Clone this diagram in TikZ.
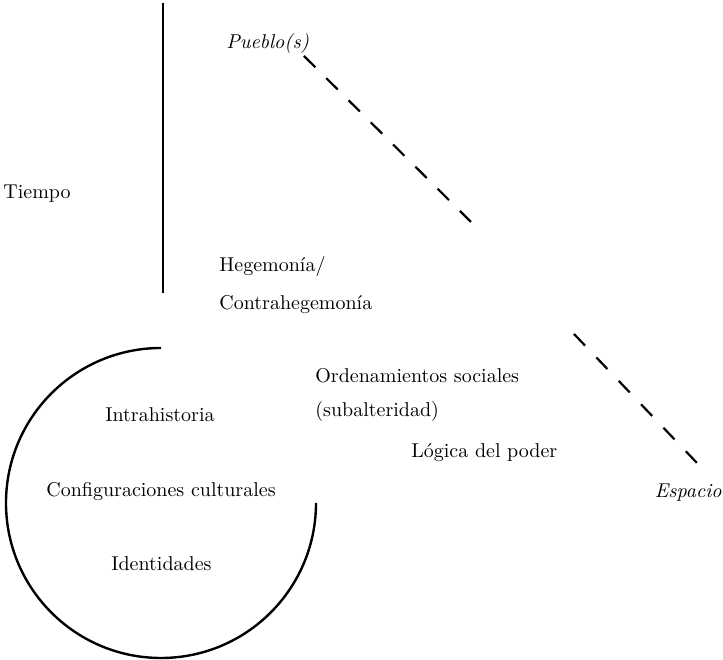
\documentclass[tikz,border=0pt]{standalone}
\begin{document}
\begin{tikzpicture}[x=1pt, y=1pt,
  lbl/.style={font=\fontsize{10}{12}\selectfont, scale=2, transform shape, inner sep=0pt, anchor=base west},
  lblit/.style={lbl, font=\fontsize{10}{12}\selectfont\itshape},
  axis/.style={line width=2.2pt},
  dashaxis/.style={line width=2.2pt},
  ring/.style={line width=2.4pt}]
\useasboundingbox (0,0) rectangle (723,660);

% time axis
\coordinate (tTop) at (163,657);
\coordinate (tBot) at (163,367);
\draw[axis] (tTop) -- (tBot);

% space axis, in two dashed pieces
\coordinate (s1a) at (304,604);
\coordinate (s1b) at (471,438);
\coordinate (s2a) at (574,326);
\coordinate (s2b) at (697,197);
\draw[dashaxis, dash pattern=on 16pt off 15.4pt] (s1a) -- (s1b);
\draw[dashaxis, dash pattern=on 16pt off 16.4pt] (s2a) -- (s2b);

% open ring around the cultural terms
\coordinate (ringStart) at (161,312);
\draw[ring] (ringStart) arc[start angle=90, end angle=360, radius=155];

% labels
\node[lbl]   (tiempo)  at (3,461)   {Tiempo};
\node[lblit] (pueblo)  at (226,611) {Pueblo(s)};
\node[lbl]   (heg)     at (219,388) {Hegemonía/};
\node[lbl]   (contra)  at (219,350) {Contrahegemonía};
\node[lbl]   (orden)   at (315,277) {Ordenamientos sociales};
\node[lbl]   (subal)   at (315,243) {(subalteridad)};
\node[lbl]   (logica)  at (411,202) {Lógica del poder};
\node[lbl]   (intra)   at (105,238) {Intrahistoria};
\node[lbl]   (config)  at (46,163)  {Configuraciones culturales};
\node[lbl]   (ident)   at (111,89)  {Identidades};
\node[lblit, anchor=base east] (espacio) at (722,162) {Espacio};
\end{tikzpicture}
\end{document}
